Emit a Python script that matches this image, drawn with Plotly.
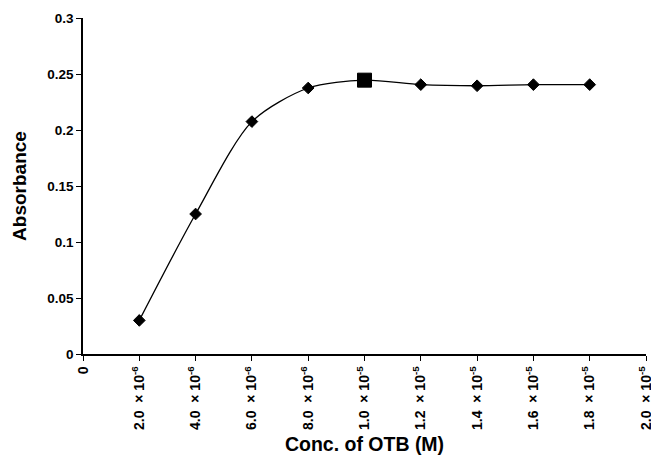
import plotly.graph_objects as go

conc = [2.0e-6, 4.0e-6, 6.0e-6, 8.0e-6, 1.0e-5, 1.2e-5, 1.4e-5, 1.6e-5, 1.8e-5]
absorbance = [0.030, 0.125, 0.2075, 0.2375, 0.2445, 0.2405, 0.2395, 0.2405, 0.2405]

x_tick_vals = [0, 2e-6, 4e-6, 6e-6, 8e-6, 1.0e-5, 1.2e-5, 1.4e-5, 1.6e-5, 1.8e-5, 2.0e-5]
x_tick_text = ["0", "2.0 \u00a0× 10<sup>-6</sup>", "4.0 \u00a0× 10<sup>-6</sup>",
               "6.0 \u00a0× 10<sup>-6</sup>", "8.0 \u00a0× 10<sup>-6</sup>",
               "1.0 \u00a0× 10<sup>-5</sup>", "1.2 \u00a0× 10<sup>-5</sup>",
               "1.4 \u00a0× 10<sup>-5</sup>", "1.6 \u00a0× 10<sup>-5</sup>",
               "1.8 \u00a0× 10<sup>-5</sup>", "2.0 \u00a0× 10<sup>-5</sup>"]
y_tick_vals = [0, 0.05, 0.1, 0.15, 0.2, 0.25, 0.3]
y_tick_text = ["0", "0.05", "0.1", "0.15", "0.2", "0.25", "0.3"]

imax = absorbance.index(max(absorbance))
symbols = ["square" if i == imax else "diamond" for i in range(len(conc))]
sizes = [14 if i == imax else 9 for i in range(len(conc))]

fig = go.Figure()
fig.add_trace(go.Scatter(
    x=conc, y=absorbance, mode="lines+markers",
    line=dict(color="black", width=1.3, shape="spline", smoothing=0.8),
    marker=dict(symbol=symbols, size=sizes, color="black", opacity=1,
                line=dict(width=1, color="black")),
    showlegend=False,
))

font_family = "Liberation Sans, Arial, sans-serif"
fig.update_layout(
    width=651, height=447,
    margin=dict(l=75, r=13, t=10, b=101),
    plot_bgcolor="white", paper_bgcolor="white",
    font=dict(family=font_family, color="black"),
    xaxis=dict(
        range=[0, 2.0e-5], tickmode="array", tickvals=x_tick_vals, ticktext=x_tick_text,
        tickangle=-90, ticks="outside", ticklen=5, tickwidth=1, tickcolor="black",
        showline=True, linecolor="black", linewidth=1.5, showgrid=False, zeroline=False,
        automargin=False,
        tickfont=dict(size=14, family=font_family, color="black", weight="bold"),
        title=dict(text="<b>Conc. of OTB (M)</b>", font=dict(size=19.5), standoff=12),
    ),
    yaxis=dict(
        range=[0, 0.3], tickmode="array", tickvals=y_tick_vals, ticktext=y_tick_text,
        ticks="outside", ticklen=5, tickwidth=1, tickcolor="black",
        showline=True, linecolor="black", linewidth=1.5, showgrid=False, zeroline=False,
        automargin=False,
        tickfont=dict(size=13.5, family=font_family, color="black", weight="bold"),
        title=dict(text="<b>Absorbance</b>", font=dict(size=19), standoff=16),
    ),
)

fig.write_html("out.html")
